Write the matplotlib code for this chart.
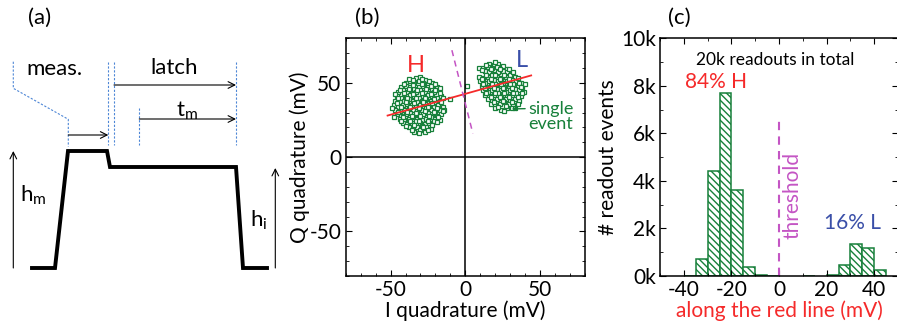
import numpy as np
import matplotlib
matplotlib.use("Agg")
import matplotlib.pyplot as plt
from matplotlib.ticker import MultipleLocator, FuncFormatter

plt.rcParams['font.family'] = ['Lato', 'DejaVu Sans']
plt.rcParams['axes.unicode_minus'] = False
plt.rcParams['hatch.linewidth'] = 1.0

GREEN = '#17803a'
RED = '#f52a2a'
BLUE = '#3a4fa8'
MAGENTA = '#c455c4'
DASHBLUE = '#4d86d6'

# ---- panel (a): pulse schematic, in pixel units of the figure
pulse_x = [32, 55, 68, 107, 110, 236, 243, 267]
pulse_y = [268, 268, 151, 151, 167, 167, 268, 268]

# ---- panel (b): single-shot IQ clouds (mV)
h_pts = [(-33, 53), (-30, 54), (-27, 52),
         (-40, 50), (-37, 51), (-34, 50), (-31, 51), (-28, 50), (-25, 49), (-22, 50),
         (-43, 47), (-40, 48), (-37, 47), (-34, 46), (-31, 47), (-28, 48), (-25, 47), (-22, 46), (-19, 47),
         (-45, 44), (-42, 45), (-39, 44), (-36, 43), (-33, 44), (-30, 45), (-27, 44), (-24, 43), (-21, 44), (-18, 45),
         (-46, 41), (-43, 40), (-40, 41), (-37, 42), (-34, 41), (-31, 40), (-28, 41), (-25, 42), (-22, 41), (-19, 40), (-16, 41),
         (-47, 38), (-44, 37), (-41, 38), (-38, 39), (-35, 38), (-32, 37), (-29, 38), (-26, 39), (-23, 38), (-20, 37), (-17, 38),
         (-48, 35), (-45, 34), (-42, 35), (-39, 36), (-36, 35), (-33, 34), (-30, 35), (-27, 36), (-24, 35), (-21, 34), (-18, 35), (-15, 34),
         (-47, 32), (-44, 31), (-41, 32), (-38, 33), (-35, 32), (-32, 31), (-29, 32), (-26, 33), (-23, 32), (-20, 31), (-17, 32),
         (-46, 29), (-43, 28), (-40, 29), (-37, 30), (-34, 29), (-31, 28), (-28, 29), (-25, 30), (-22, 29), (-19, 28), (-16, 29),
         (-44, 26), (-41, 25), (-38, 26), (-35, 27), (-32, 26), (-29, 25), (-26, 26), (-23, 27), (-20, 26), (-17, 25),
         (-42, 23), (-39, 22), (-36, 23), (-33, 24), (-30, 23), (-27, 22), (-24, 23), (-21, 24),
         (-38, 20), (-35, 19), (-32, 20), (-29, 21), (-26, 20), (-23, 19),
         (-34, 17), (-30, 18), (-27, 17),
         (-38, 52.5), (-35, 52), (-29, 52.5), (-24, 51.5),
         (-41, 49), (-35, 48.5), (-29, 49), (-23, 48), (-20, 49),
         (-44, 45.5), (-38, 46), (-32, 45.5), (-26, 46), (-20, 45.5), (-17, 46.5),
         (-47, 42.5), (-41, 43), (-35, 42.5), (-29, 43), (-23, 42.5), (-17, 43),
         (-45, 39.5), (-39, 40), (-33, 39.5), (-27, 40), (-21, 39), (-15, 39.5),
         (-46, 36.5), (-40, 37), (-34, 36.5), (-28, 37), (-22, 36.5), (-16, 37),
         (-49, 33), (-43, 33.5), (-37, 33.5), (-31, 33), (-25, 33.5), (-19, 33), (-14, 32),
         (-45, 30.5), (-39, 30.5), (-33, 30), (-27, 31), (-21, 30.5), (-15, 31),
         (-48, 27), (-42, 27), (-36, 28), (-30, 27.5), (-24, 27.5), (-18, 27),
         (-43, 24.5), (-37, 24.5), (-31, 24.5), (-25, 24.5), (-19, 23.5),
         (-40, 21), (-34, 21.5), (-28, 20), (-22, 21.5),
         (-36, 18), (-31, 16), (-25, 18),
         (-10, 39), (1, 48)]
l_pts = [(16, 63), (19, 62), (22, 63), (9, 60),
         (12, 60), (15, 61), (18, 60), (21, 61), (24, 60), (27, 59),
         (13, 58), (16, 57), (19, 56), (22, 57), (25, 58), (28, 57), (31, 56),
         (9, 54), (12, 53), (15, 54), (18, 55), (21, 54), (24, 53), (27, 54), (30, 55), (33, 54),
         (10, 51), (13, 50), (16, 51), (19, 52), (22, 51), (25, 50), (28, 51), (31, 52), (34, 51), (37, 50),
         (11, 48), (14, 47), (17, 48), (20, 49), (23, 48), (26, 47), (29, 48), (32, 49), (35, 48), (38, 47),
         (12, 45), (15, 44), (18, 45), (21, 46), (24, 45), (27, 44), (30, 45), (33, 46), (36, 45), (39, 44),
         (13, 42), (16, 41), (19, 42), (22, 43), (25, 42), (28, 41), (31, 42), (34, 43), (37, 41),
         (15, 39), (18, 38), (21, 39), (24, 40), (27, 39), (30, 38), (33, 39), (36, 38),
         (17, 36), (20, 35), (23, 36), (26, 37), (29, 36), (32, 35),
         (20, 33), (24, 32), (28, 33), (31, 33),
         (14, 62), (20, 64), (25, 61.5), (11, 58.5), (17, 59), (23, 59), (29, 59.5),
         (14, 55.5), (20, 55.5), (26, 55.5), (32, 57), (11, 52.5), (17, 52.5), (23, 52.5),
         (29, 52.5), (35, 53), (12, 49.5), (18, 49.5), (24, 49.5), (30, 49.5), (36, 50),
         (40, 49), (13, 46.5), (19, 46.5), (25, 46.5), (31, 46.5), (37, 47), (14, 43.5),
         (20, 43.5), (26, 43.5), (32, 43.5), (38, 43), (17, 40.5), (23, 40.5), (29, 40.5),
         (35, 40.5), (19, 37), (25, 37.5), (31, 37), (35, 36), (22, 34), (27, 34.5),
         (33, 33), (26, 31)]
red_line_i = [-52, 44]
red_line_q = [28, 55]
thr_line_i = [-9, 5]
thr_line_q = [72, 16]

# ---- panel (c): histogram along the red line
bin_left = [-40, -35, -30, -25, -20, -15, -10, -5, 10, 20, 25, 30, 35, 40]
counts = [10, 720, 4430, 7690, 3620, 360, 30, 10, 10, 40, 460, 1360, 1160, 240]
bin_width = 5

fig = plt.figure(figsize=(8.97, 3.25), dpi=100)
W, H = 897.0, 325.0


def box(l, t, r, b):
    return [l / W, 1 - b / H, (r - l) / W, (b - t) / H]


# (a)
axa = fig.add_axes([0, 0, 300 / W, 1])
axa.set_xlim(0, 300)
axa.set_ylim(325, 0)
axa.axis('off')
axa.plot(pulse_x, pulse_y, color='black', lw=2.8, solid_joinstyle='miter')
dkw = dict(color=DASHBLUE, lw=0.8, ls=(0, (2, 1.5)))
axa.plot([13.3, 13.3, 68.3, 68.3], [61.7, 88.3, 119.3, 146.7], **dkw)
axa.plot([108.3, 108.3], [61.7, 145], **dkw)
axa.plot([114, 114], [61.7, 145], **dkw)
axa.plot([139.3, 139.3], [108.3, 145], **dkw)
axa.plot([236, 236], [61.7, 145], **dkw)
akw = dict(arrowstyle='->', color='black', lw=0.8, mutation_scale=12, shrinkA=0, shrinkB=0)
for (x0, y0, x1, y1) in [(68.3, 135, 108.3, 135), (114, 85, 236, 85), (139.3, 119, 236, 119),
                         (13.3, 268, 13.3, 151), (275.3, 268, 275.3, 168)]:
    axa.annotate('', xy=(x1, y1), xytext=(x0, y0), arrowprops=akw)
axa.text(40, 18, '(a)', fontsize=16, ha='center', va='center')
axa.text(54, 69, 'meas.', fontsize=16, ha='center', va='center')
axa.text(174, 68, 'latch', fontsize=16, ha='center', va='center')
axa.text(187, 111, 't$_\\mathregular{m}$', fontsize=16, ha='center', va='center')
axa.text(33, 195, 'h$_\\mathregular{m}$', fontsize=16, ha='center', va='center')
axa.text(259, 220, 'h$_\\mathregular{i}$', fontsize=16, ha='center', va='center')

# (b)
axb = fig.add_axes(box(345.7, 38.3, 585, 276))
hx, hy = zip(*h_pts)
lx, ly = zip(*l_pts)
mk = dict(ls='none', marker='s', ms=3.3, mfc='white', mec=GREEN, mew=0.9)
axb.plot(hx, hy, **mk)
axb.plot(lx, ly, **mk)
axb.axhline(0, color='black', lw=1.1)
axb.axvline(0, color='black', lw=1.1)
axb.plot(red_line_i, red_line_q, color=RED, lw=1.3)
axb.plot(thr_line_i, thr_line_q, color=MAGENTA, lw=1.1, ls=(0, (4, 3)))
axb.set_xlim(-80, 80)
axb.set_ylim(-80, 80)
axb.xaxis.set_major_locator(MultipleLocator(50))
axb.xaxis.set_minor_locator(MultipleLocator(10))
axb.yaxis.set_major_locator(MultipleLocator(50))
axb.yaxis.set_minor_locator(MultipleLocator(10))
axb.tick_params(which='both', direction='in', top=True, right=True, labelsize=15)
axb.tick_params(which='major', length=4, pad=3)
axb.tick_params(which='minor', length=2.5)
axb.set_xlabel('I quadrature (mV)', fontsize=15, labelpad=0)
axb.set_ylabel('Q quadrature (mV)', fontsize=15, labelpad=0)
axb.text(-33, 62, 'H', color=RED, fontsize=17, ha='center', va='center')
axb.text(38, 65, 'L', color=BLUE, fontsize=17, ha='center', va='center')
axb.annotate('single\nevent', xy=(31, 32.5), xytext=(57, 27.5), color=GREEN, fontsize=13,
             ha='center', va='center', linespacing=0.9,
             arrowprops=dict(arrowstyle='-|>', color=GREEN, lw=1, mutation_scale=6,
                             shrinkA=0, shrinkB=0, relpos=(0.0, 0.75)))
axb.text(-65.5, 94, '(b)', fontsize=16, ha='center', va='center')
for s in axb.spines.values():
    s.set_linewidth(1.1)

# (c)
axc = fig.add_axes(box(660, 38.3, 898, 276))
axc.bar(bin_left, counts, width=bin_width, align='edge', color='white', edgecolor=GREEN,
        hatch='\\\\\\\\\\', lw=1.1)
axc.plot([0, 0], [0, 6700], color=MAGENTA, lw=1.5, ls=(0, (4, 3)))
axc.set_xlim(-50, 50)
axc.set_ylim(0, 10000)
axc.xaxis.set_major_locator(MultipleLocator(20))
axc.xaxis.set_minor_locator(MultipleLocator(10))
axc.yaxis.set_major_locator(MultipleLocator(2000))
axc.yaxis.set_minor_locator(MultipleLocator(1000))
axc.yaxis.set_major_formatter(FuncFormatter(lambda v, p: f'{v / 1000:.0f}k'))
axc.tick_params(which='both', direction='in', top=True, right=True, labelsize=15)
axc.tick_params(which='major', length=4, pad=3)
axc.tick_params(which='minor', length=2.5)
axc.set_xlabel('along the red line (mV)', fontsize=15, color=RED, labelpad=0)
axc.set_ylabel('# readout events', fontsize=15, labelpad=2)
axc.text(-1.5, 9100, '20k readouts in total', fontsize=12.5, ha='center', va='center')
axc.text(-26.5, 8150, '84% H', fontsize=15, color=RED, ha='center', va='center')
axc.text(31, 2250, '16% L', fontsize=15, color=BLUE, ha='center', va='center')
axc.text(5.5, 3400, 'threshold', fontsize=15, color=MAGENTA, rotation=90, ha='center', va='center')
axc.text(-42, 10850, '(c)', fontsize=16, ha='center', va='center')
for s in axc.spines.values():
    s.set_linewidth(1.1)

fig.savefig('out.png', dpi=100)
